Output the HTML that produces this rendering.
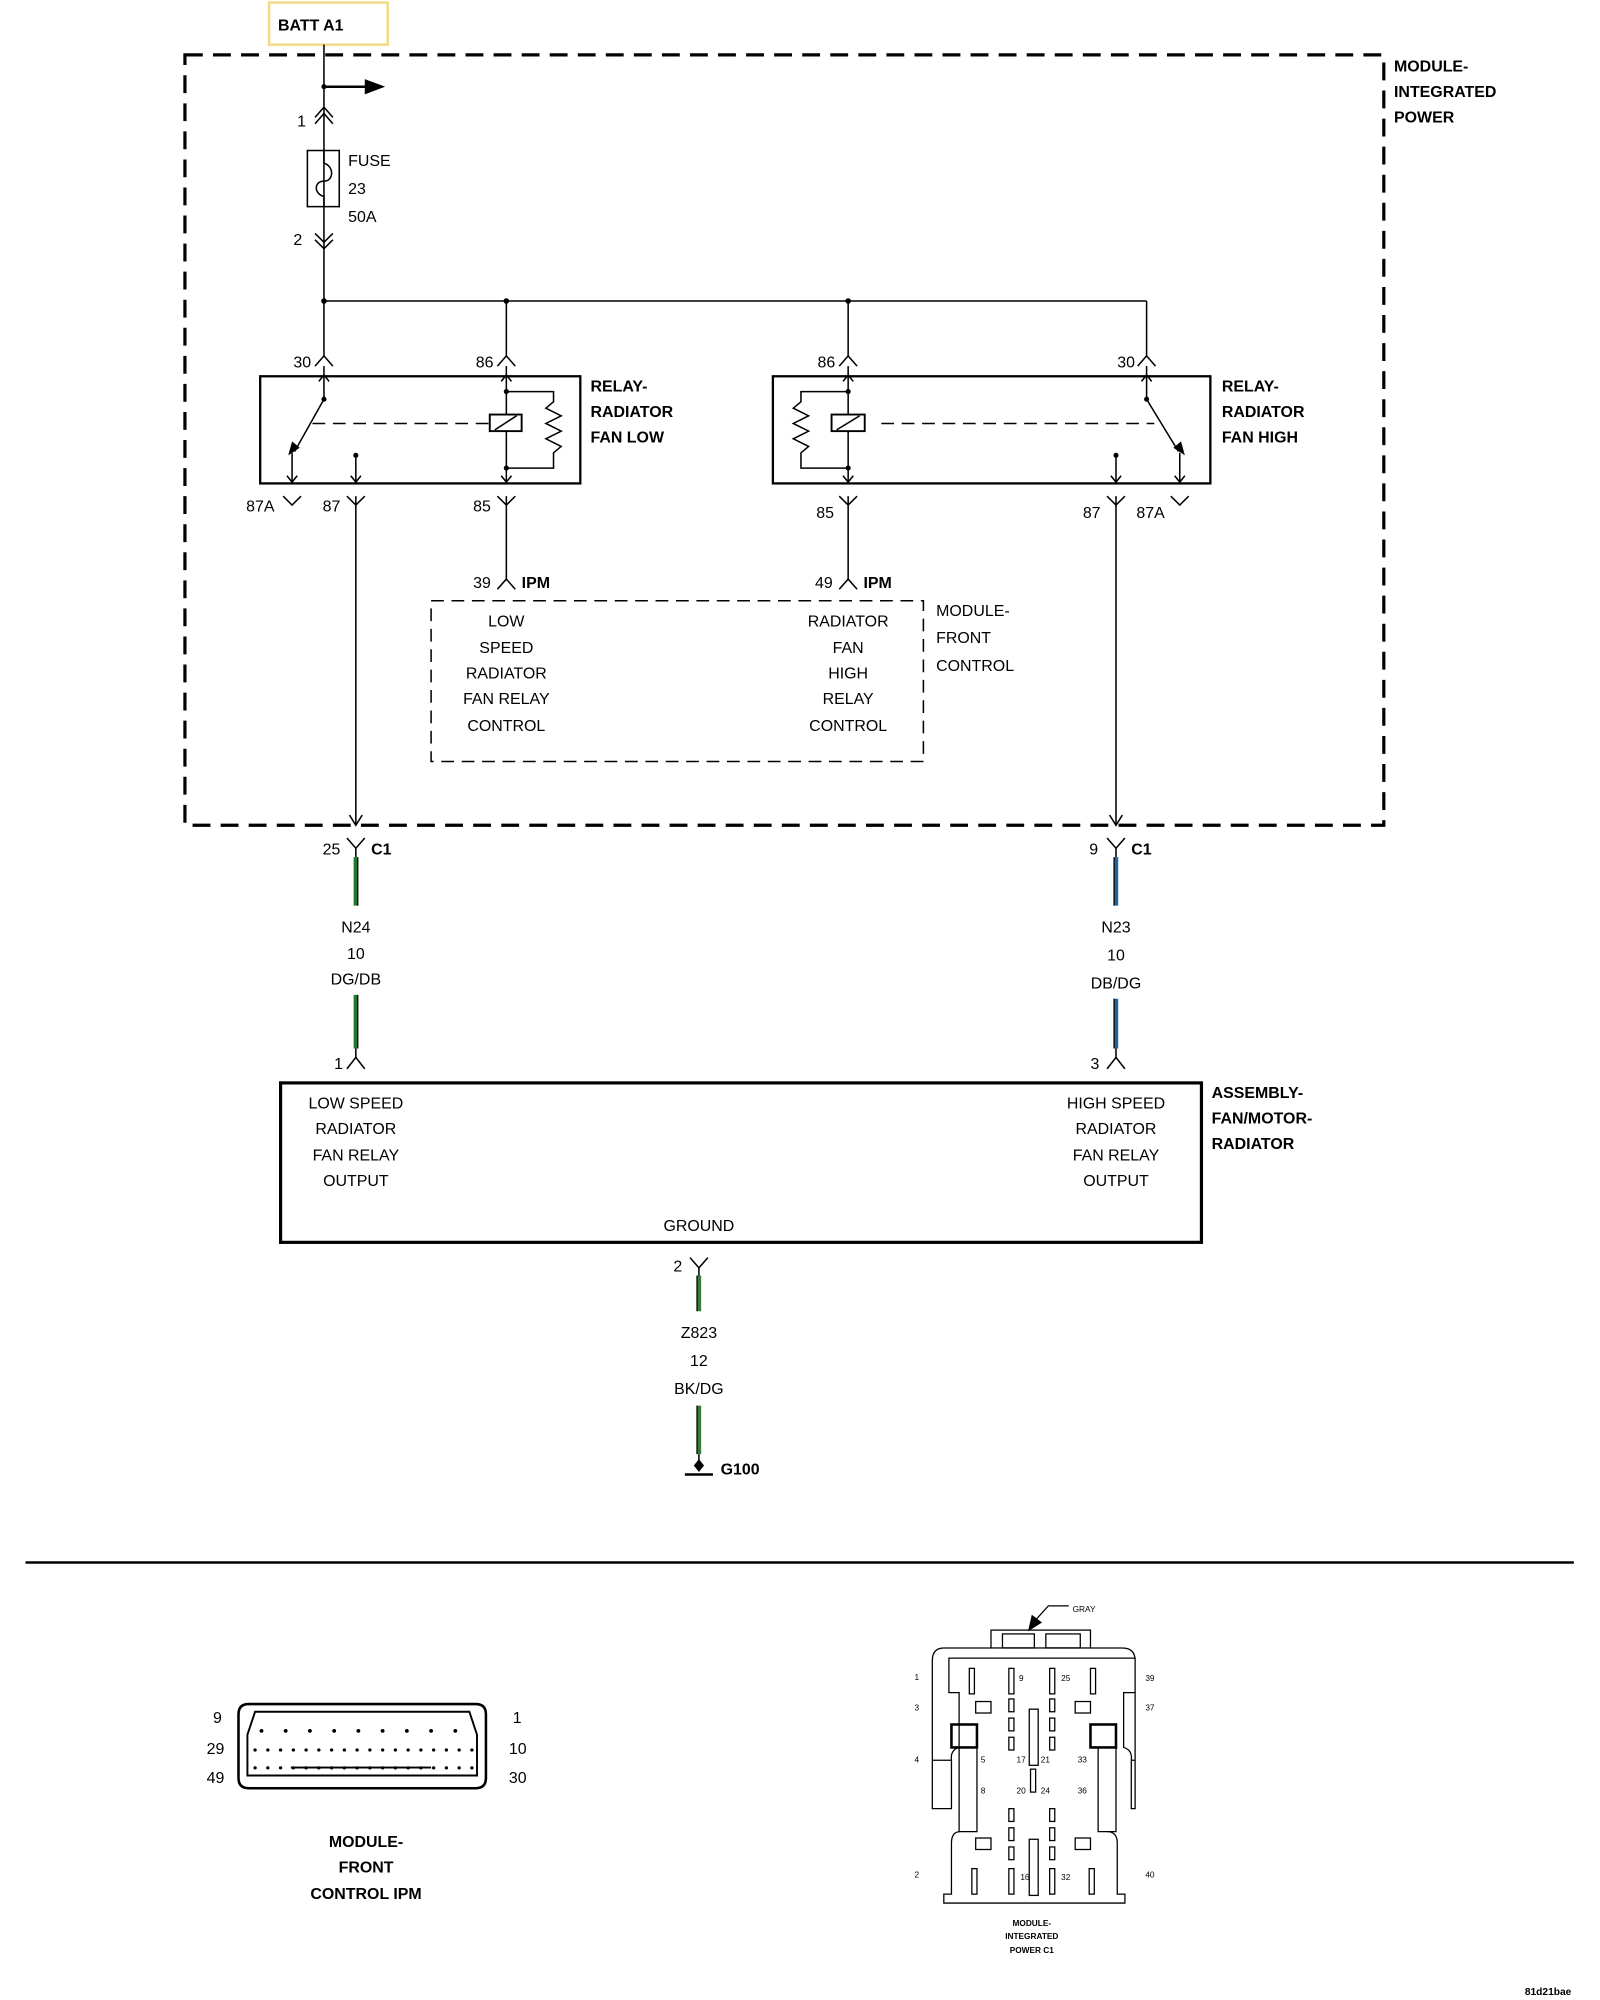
<!DOCTYPE html>
<html><head><meta charset="utf-8"><style>
html,body{margin:0;padding:0;background:#fff}
svg{display:block}
text{font-family:"Liberation Sans",sans-serif;font-size:12.5px;fill:#000}
.b{font-weight:bold}
.m{text-anchor:middle}
</style></head><body>
<svg width="1600" height="2000" viewBox="0 0 1254.5 1568" preserveAspectRatio="none" xmlns="http://www.w3.org/2000/svg">
<rect width="1254.5" height="1568" fill="#fff"/>
<g fill="none" stroke="#000" stroke-width="1.2">
<rect x="211" y="2" width="93" height="33" stroke="#f3d98a" stroke-width="2"/>
<rect x="145" y="43" width="940" height="604" stroke-width="2.5" stroke-dasharray="14,8"/>
<line x1="254" y1="35" x2="254" y2="280"/>
<line x1="254" y1="68" x2="288" y2="68" stroke-width="2"/>
<polyline points="247,97 254,89 261,97"/><polyline points="247,92 254,84 261,92"/>
<rect x="241" y="118" width="25" height="44"/>
<path d="M254,118 L254,128 C262,130 262,142 254,142 C246,142 246,152 254,154 L254,162"/>
<polyline points="247,183 254,190 261,183"/><polyline points="247,188 254,195 261,188"/>
<line x1="254" y1="236" x2="899" y2="236"/>
<line x1="397" y1="236" x2="397" y2="280"/>
<line x1="665" y1="236" x2="665" y2="280"/>
<line x1="899" y1="236" x2="899" y2="280"/>
<polyline points="247,287 254,279 261,287"/>
<polyline points="390,287 397,279 404,287"/>
<polyline points="658,287 665,279 672,287"/>
<polyline points="892,287 899,279 906,287"/>
<rect x="204" y="295" width="251" height="84" stroke-width="1.8"/>
<rect x="606" y="295" width="343" height="84" stroke-width="1.8"/>
<line x1="254" y1="287" x2="254" y2="313"/>
<line x1="254" y1="313" x2="231" y2="354"/>
<line x1="245" y1="332" x2="384" y2="332" stroke-dasharray="10,6"/>
<rect x="384" y="325" width="25" height="13" stroke-width="1.5"/>
<line x1="388" y1="337" x2="405" y2="326"/>
<line x1="397" y1="287" x2="397" y2="325"/><line x1="397" y1="338" x2="397" y2="379"/>
<polyline points="397,307 434,307 434,315 428,320 440,326 428,332 440,338 428,344 440,350 434,355 434,367 397,367"/>
<line x1="229" y1="355" x2="229" y2="379"/>
<line x1="279" y1="357" x2="279" y2="379"/>
<polyline points="250,299 254,294 258,299"/>
<polyline points="393,299 397,294 401,299"/>
<polyline points="225,373 229,378 233,373"/><polyline points="275,373 279,378 283,373"/><polyline points="393,373 397,378 401,373"/>
<line x1="899" y1="287" x2="899" y2="313"/>
<line x1="899" y1="313" x2="924" y2="354"/>
<line x1="691" y1="332" x2="905" y2="332" stroke-dasharray="10,6"/>
<rect x="652" y="325" width="26" height="13" stroke-width="1.5"/>
<line x1="656" y1="337" x2="674" y2="326"/>
<line x1="665" y1="287" x2="665" y2="325"/><line x1="665" y1="338" x2="665" y2="379"/>
<polyline points="665,307 628,307 628,315 622,320 634,326 622,332 634,338 622,344 634,350 628,355 628,367 665,367"/>
<line x1="925" y1="355" x2="925" y2="379"/>
<line x1="875" y1="357" x2="875" y2="379"/>
<polyline points="895,299 899,294 903,299"/><polyline points="661,299 665,294 669,299"/>
<polyline points="921,373 925,378 929,373"/><polyline points="871,373 875,378 879,373"/><polyline points="661,373 665,378 669,373"/>
<polyline points="222,389 229,396 236,389"/>
<polyline points="272,389 279,396 286,389"/>
<polyline points="390,389 397,396 404,389"/>
<polyline points="658,389 665,396 672,389"/>
<polyline points="868,389 875,396 882,389"/>
<polyline points="918,389 925,396 932,389"/>
<line x1="279" y1="389" x2="279" y2="647"/>
<polyline points="274,639 279,647 284,639"/>
<line x1="875" y1="389" x2="875" y2="647"/>
<polyline points="870,639 875,647 880,639"/>
<line x1="397" y1="389" x2="397" y2="455"/>
<line x1="665" y1="389" x2="665" y2="455"/>
<polyline points="390,462 397,454 404,462"/>
<polyline points="658,462 665,454 672,462"/>
<rect x="338" y="471" width="386" height="126" stroke-dasharray="10,6"/>
<polyline points="272,657 279,665 286,657"/><line x1="279" y1="665" x2="279" y2="672"/>
<polyline points="868,657 875,665 882,657"/><line x1="875" y1="665" x2="875" y2="672"/>
<polyline points="272,838 279,829 286,838"/><line x1="279" y1="822" x2="279" y2="829"/>
<polyline points="868,838 875,829 882,838"/><line x1="875" y1="822" x2="875" y2="829"/>
<rect x="220" y="849" width="722" height="125" stroke-width="2.5"/>
<polyline points="541,986 548,994 555,986"/><line x1="548" y1="994" x2="548" y2="1000"/>
<line x1="537" y1="1156" x2="559" y2="1156" stroke-width="2"/>
<line x1="548" y1="1140" x2="548" y2="1150"/>
<line x1="20" y1="1225" x2="1234" y2="1225" stroke-width="2"/>
<path d="M195,1336 H373 Q381,1336 381,1344 V1394 Q381,1402 373,1402 H195 Q187,1402 187,1394 V1344 Q187,1336 195,1336 Z" stroke-width="2"/>
<path d="M200,1342 H368 L374,1360 V1392 H194 V1360 Z" stroke-width="1.5"/>
<g stroke-width="1">
<rect x="777" y="1278" width="78" height="14"/>
<rect x="786" y="1281" width="25" height="11"/><rect x="820" y="1281" width="27" height="11"/>
<path d="M777,1292 H740 Q731,1292 731,1302 V1418 H746 V1380 Q745,1372 752,1370 V1327 H744 V1300 H890 V1327 H881 V1370 Q888,1372 887,1380 V1418 H890 V1302 Q890,1292 880,1292 H855"/>
<path d="M731,1380 H746 M887,1380 H890"/>
<rect x="746" y="1352" width="20" height="18" stroke-width="2"/>
<rect x="855" y="1352" width="20" height="18" stroke-width="2"/>
<path d="M752,1370 V1436 H766 V1370 M861,1370 V1436 H875 V1370"/>
<path d="M753,1436 Q746,1436 746,1445 V1485 H740 V1492 H882 V1485 H876 V1445 Q876,1436 868,1436"/>
<rect x="760" y="1308" width="4" height="20"/><rect x="791" y="1308" width="4" height="20"/><rect x="823" y="1308" width="4" height="20"/><rect x="855" y="1308" width="4" height="20"/>
<rect x="765" y="1334" width="12" height="9"/><rect x="843" y="1334" width="12" height="9"/>
<rect x="807" y="1340" width="7" height="44"/><rect x="807" y="1442" width="7" height="44"/>
<rect x="791" y="1332" width="4" height="10"/><rect x="791" y="1347" width="4" height="10"/><rect x="791" y="1362" width="4" height="10"/>
<rect x="823" y="1332" width="4" height="10"/><rect x="823" y="1347" width="4" height="10"/><rect x="823" y="1362" width="4" height="10"/>
<rect x="791" y="1418" width="4" height="10"/><rect x="791" y="1433" width="4" height="10"/><rect x="791" y="1448" width="4" height="10"/>
<rect x="823" y="1418" width="4" height="10"/><rect x="823" y="1433" width="4" height="10"/><rect x="823" y="1448" width="4" height="10"/>
<rect x="808" y="1387" width="4" height="18"/>
<rect x="765" y="1441" width="12" height="9"/><rect x="843" y="1441" width="12" height="9"/>
<rect x="762" y="1465" width="4" height="20"/><rect x="791" y="1465" width="4" height="20"/><rect x="823" y="1465" width="4" height="20"/><rect x="854" y="1465" width="4" height="20"/>
</g>
<polyline points="838,1259 822,1259 812,1270" stroke-width="1"/>
</g>
<polygon points="286,62 302,68 286,74" fill="#000"/>
<g fill="#000">
<circle cx="254" cy="68" r="2"/><circle cx="254" cy="236" r="2.2"/><circle cx="397" cy="236" r="2.2"/><circle cx="665" cy="236" r="2.2"/>
<circle cx="254" cy="313" r="2"/><circle cx="899" cy="313" r="2"/><circle cx="279" cy="357" r="2"/><circle cx="875" cy="357" r="2"/>
<circle cx="397" cy="307" r="2"/><circle cx="397" cy="367" r="2"/><circle cx="665" cy="307" r="2"/><circle cx="665" cy="367" r="2"/>
<polygon points="226,357 229,346 235,351"/><polygon points="929,357 926,346 920,351"/>
<polygon points="548,1144 552,1149 548,1154 544,1149"/>
<polygon points="806,1279 809,1266 817,1272"/>
</g>
<g fill="#000">
<g><circle cx="205" cy="1357" r="1.5"/><circle cx="224" cy="1357" r="1.5"/><circle cx="243" cy="1357" r="1.5"/><circle cx="262" cy="1357" r="1.5"/><circle cx="281" cy="1357" r="1.5"/><circle cx="300" cy="1357" r="1.5"/><circle cx="319" cy="1357" r="1.5"/><circle cx="338" cy="1357" r="1.5"/><circle cx="357" cy="1357" r="1.5"/></g>
<g transform="translate(-5,15)"><circle cx="205" cy="1357" r="1.3"/><circle cx="215" cy="1357" r="1.3"/><circle cx="225" cy="1357" r="1.3"/><circle cx="235" cy="1357" r="1.3"/><circle cx="245" cy="1357" r="1.3"/><circle cx="255" cy="1357" r="1.3"/><circle cx="265" cy="1357" r="1.3"/><circle cx="275" cy="1357" r="1.3"/><circle cx="285" cy="1357" r="1.3"/><circle cx="295" cy="1357" r="1.3"/><circle cx="305" cy="1357" r="1.3"/><circle cx="315" cy="1357" r="1.3"/><circle cx="325" cy="1357" r="1.3"/><circle cx="335" cy="1357" r="1.3"/><circle cx="345" cy="1357" r="1.3"/><circle cx="355" cy="1357" r="1.3"/><circle cx="365" cy="1357" r="1.3"/><circle cx="375" cy="1357" r="1.3"/></g>
<g transform="translate(-5,29)"><circle cx="205" cy="1357" r="1.3"/><circle cx="215" cy="1357" r="1.3"/><circle cx="225" cy="1357" r="1.3"/><circle cx="235" cy="1357" r="1.3"/><circle cx="245" cy="1357" r="1.3"/><circle cx="255" cy="1357" r="1.3"/><circle cx="265" cy="1357" r="1.3"/><circle cx="275" cy="1357" r="1.3"/><circle cx="285" cy="1357" r="1.3"/><circle cx="295" cy="1357" r="1.3"/><circle cx="305" cy="1357" r="1.3"/><circle cx="315" cy="1357" r="1.3"/><circle cx="325" cy="1357" r="1.3"/><circle cx="335" cy="1357" r="1.3"/><circle cx="345" cy="1357" r="1.3"/><circle cx="355" cy="1357" r="1.3"/><circle cx="365" cy="1357" r="1.3"/><circle cx="375" cy="1357" r="1.3"/></g>
<rect x="228" y="1385" width="110" height="1.5"/>
</g>
<g stroke-width="3.5">
<line x1="279" y1="672" x2="279" y2="710" stroke="#1d7a2e"/><line x1="279" y1="780" x2="279" y2="822" stroke="#1d7a2e"/>
<line x1="875" y1="672" x2="875" y2="710" stroke="#2064a0"/><line x1="875" y1="783" x2="875" y2="822" stroke="#2064a0"/>
<line x1="548" y1="1000" x2="548" y2="1028" stroke="#3a7a3a"/><line x1="548" y1="1102" x2="548" y2="1140" stroke="#3a7a3a"/>
</g>
<g stroke-width="1" stroke="#000">
<line x1="280.5" y1="672" x2="280.5" y2="710"/><line x1="280.5" y1="780" x2="280.5" y2="822"/>
<line x1="873.5" y1="672" x2="873.5" y2="710"/><line x1="873.5" y1="783" x2="873.5" y2="822"/>
<line x1="546.5" y1="1000" x2="546.5" y2="1028"/><line x1="546.5" y1="1102" x2="546.5" y2="1140"/>
</g>
<text x="218" y="24" class="b">BATT A1</text>
<text x="1093" y="56" class="b">MODULE-</text><text x="1093" y="76" class="b">INTEGRATED</text><text x="1093" y="96" class="b">POWER</text>
<text x="233" y="99">1</text><text x="230" y="192">2</text>
<text x="273" y="130">FUSE</text><text x="273" y="152">23</text><text x="273" y="174">50A</text>
<text x="230" y="288">30</text><text x="373" y="288">86</text><text x="641" y="288">86</text><text x="876" y="288">30</text>
<text x="463" y="307" class="b">RELAY-</text><text x="463" y="327" class="b">RADIATOR</text><text x="463" y="347" class="b">FAN LOW</text>
<text x="958" y="307" class="b">RELAY-</text><text x="958" y="327" class="b">RADIATOR</text><text x="958" y="347" class="b">FAN HIGH</text>
<text x="193" y="401">87A</text><text x="253" y="401">87</text><text x="371" y="401">85</text>
<text x="640" y="406">85</text><text x="849" y="406">87</text><text x="891" y="406">87A</text>
<text x="371" y="461">39</text><text x="409" y="461" class="b">IPM</text>
<text x="639" y="461">49</text><text x="677" y="461" class="b">IPM</text>
<text x="397" y="491" class="m">LOW</text><text x="397" y="512" class="m">SPEED</text><text x="397" y="532" class="m">RADIATOR</text><text x="397" y="552" class="m">FAN RELAY</text><text x="397" y="573" class="m">CONTROL</text>
<text x="665" y="491" class="m">RADIATOR</text><text x="665" y="512" class="m">FAN</text><text x="665" y="532" class="m">HIGH</text><text x="665" y="552" class="m">RELAY</text><text x="665" y="573" class="m">CONTROL</text>
<text x="734" y="483">MODULE-</text><text x="734" y="504">FRONT</text><text x="734" y="526">CONTROL</text>
<text x="253" y="670">25</text><text x="291" y="670" class="b">C1</text>
<text x="854" y="670">9</text><text x="887" y="670" class="b">C1</text>
<text x="279" y="731" class="m">N24</text><text x="279" y="752" class="m">10</text><text x="279" y="772" class="m">DG/DB</text>
<text x="875" y="731" class="m">N23</text><text x="875" y="753" class="m">10</text><text x="875" y="775" class="m">DB/DG</text>
<text x="262" y="838">1</text><text x="855" y="838">3</text>
<text x="279" y="869" class="m">LOW SPEED</text><text x="279" y="889" class="m">RADIATOR</text><text x="279" y="910" class="m">FAN RELAY</text><text x="279" y="930" class="m">OUTPUT</text>
<text x="875" y="869" class="m">HIGH SPEED</text><text x="875" y="889" class="m">RADIATOR</text><text x="875" y="910" class="m">FAN RELAY</text><text x="875" y="930" class="m">OUTPUT</text>
<text x="548" y="965" class="m">GROUND</text>
<text x="950" y="861" class="b">ASSEMBLY-</text><text x="950" y="881" class="b">FAN/MOTOR-</text><text x="950" y="901" class="b">RADIATOR</text>
<text x="528" y="997">2</text>
<text x="548" y="1049" class="m">Z823</text><text x="548" y="1071" class="m">12</text><text x="548" y="1093" class="m">BK/DG</text>
<text x="565" y="1156" class="b">G100</text>
<text x="167" y="1351">9</text><text x="162" y="1375">29</text><text x="162" y="1398">49</text>
<text x="402" y="1351">1</text><text x="399" y="1375">10</text><text x="399" y="1398">30</text>
<text x="287" y="1448" class="m b">MODULE-</text><text x="287" y="1468" class="m b">FRONT</text><text x="287" y="1489" class="m b">CONTROL IPM</text>
<g>
<text x="841" y="1264" style="font-size:6.5px">GRAY</text>
<text x="717" y="1317" style="font-size:6.5px">1</text><text x="717" y="1341" style="font-size:6.5px">3</text><text x="717" y="1382" style="font-size:6.5px">4</text><text x="717" y="1472" style="font-size:6.5px">2</text>
<text x="898" y="1318" style="font-size:6.5px">39</text><text x="898" y="1341" style="font-size:6.5px">37</text><text x="898" y="1472" style="font-size:6.5px">40</text>
<text x="799" y="1318" style="font-size:6.5px">9</text><text x="832" y="1318" style="font-size:6.5px">25</text>
<text x="769" y="1382" style="font-size:6.5px">5</text><text x="797" y="1382" style="font-size:6.5px">17</text><text x="816" y="1382" style="font-size:6.5px">21</text><text x="845" y="1382" style="font-size:6.5px">33</text>
<text x="769" y="1406" style="font-size:6.5px">8</text><text x="797" y="1406" style="font-size:6.5px">20</text><text x="816" y="1406" style="font-size:6.5px">24</text><text x="845" y="1406" style="font-size:6.5px">36</text>
<text x="800" y="1474" style="font-size:6.5px">16</text><text x="832" y="1474" style="font-size:6.5px">32</text>
<text x="809" y="1510" class="m b" style="font-size:6.5px">MODULE-</text><text x="809" y="1520" class="m b" style="font-size:6.5px">INTEGRATED</text><text x="809" y="1531" class="m b" style="font-size:6.5px">POWER C1</text>
</g>
<text x="1232" y="1564" class="b" style="font-size:8px;text-anchor:end">81d21bae</text>
</svg>
</body></html>
